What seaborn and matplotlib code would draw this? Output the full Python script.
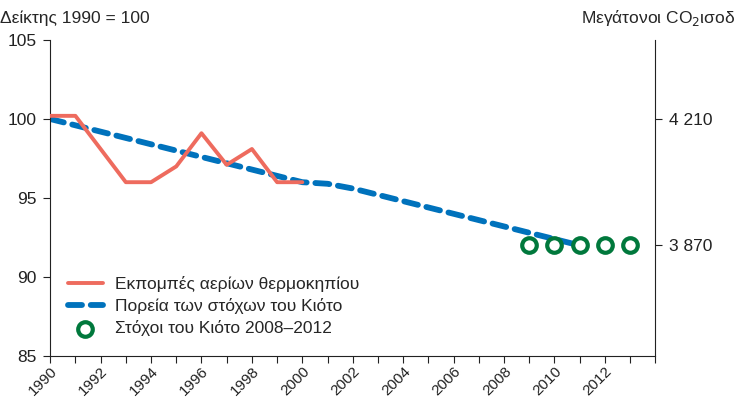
import numpy as np
import pandas as pd
import seaborn as sns
import matplotlib.pyplot as plt

# data
em_years = [1990, 1991, 1993, 1994, 1995, 1996, 1997, 1998, 1999, 2000]
em_index = [100.2, 100.2, 96.0, 96.0, 97.0, 99.1, 97.1, 98.1, 96.0, 96.0]

path_years = list(range(1990, 2012))
path_index = [100.0, 99.6, 99.2, 98.8, 98.4, 98.0, 97.6, 97.2, 96.8, 96.4,
              96.0, 95.9, 95.6, 95.2, 94.8, 94.4, 94.0, 93.6, 93.2, 92.8,
              92.4, 92.0]

target_years = [2009, 2010, 2011, 2012, 2013]
target_index = [92.0, 92.0, 92.0, 92.0, 92.0]

labels = ["Εκπομπές αερίων θερμοκηπίου",
          "Πορεία των στόχων του Κιότο",
          "Στόχοι του Κιότο 2008–2012"]
right_ticks = [4210, 3870]
right_ticklabels = ["4 210", "3 870"]

RED = "#ee6b5e"
BLUE = "#0072bc"
GREEN = "#00783c"
FS = 12.5

sns.set_theme(style="ticks")
plt.rcParams['font.family'] = ['Liberation Sans', 'DejaVu Sans']
plt.rcParams['font.size'] = FS

fig = plt.figure(figsize=(7.38, 4.0), dpi=100)
ax = fig.add_axes([0.068, 0.11, 0.82, 0.79])

em = pd.DataFrame({"year": em_years, "value": em_index})
path = pd.DataFrame({"year": path_years, "value": path_index})
tgt = pd.DataFrame({"year": target_years, "value": target_index})

sns.lineplot(data=path, x="year", y="value", ax=ax, color=BLUE, lw=4.2,
             label=labels[1], zorder=2)
ax.lines[-1].set_dashes((2.4, 1.5))
ax.lines[-1].set_dash_capstyle("round")
sns.lineplot(data=em, x="year", y="value", ax=ax, color=RED, lw=2.8,
             label=labels[0], zorder=3)
sns.scatterplot(data=tgt, x="year", y="value", ax=ax, s=110, marker="o",
                facecolor="white", edgecolor=GREEN, linewidth=3.0,
                label=labels[2], zorder=4)

ax.set_xlim(1990, 2014)
ax.set_ylim(85, 105)
ax.set_yticks([85, 90, 95, 100, 105])
ax.set_xticks(range(1990, 2015))
ax.set_xticklabels([str(y) if (y % 2 == 0 and y <= 2012) else "" for y in range(1990, 2015)],
                   rotation=45, ha="right", rotation_mode="anchor")
ax.set_xlabel("")
ax.set_ylabel("")
ax.tick_params(axis="both", colors="#222222", labelsize=FS, length=5, width=0.8)
ax.tick_params(axis="y", pad=5)
ax.tick_params(axis="x", pad=1, labelsize=11)
for s in ["top", "right"]:
    ax.spines[s].set_visible(False)
for s in ["left", "bottom"]:
    ax.spines[s].set_color("#222222")
    ax.spines[s].set_linewidth(0.8)

# right axis in megatonnes
ax2 = ax.twinx()
k = (4210 - 3870) / 8.0
ax2.set_ylim(4210 - 15 * k, 4210 + 5 * k)
ax2.set_yticks(right_ticks)
ax2.set_yticklabels(right_ticklabels)
ax2.tick_params(axis="y", colors="#222222", labelsize=FS, length=5, width=0.8, pad=5)
for s in ["top", "left", "bottom"]:
    ax2.spines[s].set_visible(False)
ax2.spines["right"].set_color("#222222")
ax2.spines["right"].set_linewidth(0.8)

h, l = ax.get_legend_handles_labels()
order = [l.index(t) for t in labels]
leg = ax.legend([h[i] for i in order], [l[i] for i in order], loc="lower left",
                bbox_to_anchor=(0.012, 0.03), frameon=False, fontsize=FS,
                handlelength=2.0, handletextpad=0.7, labelspacing=0.35, borderaxespad=0.2)

fig.text(0.0, 0.955, "Δείκτης 1990 = 100", ha="left", va="center", fontsize=FS)
fig.text(0.996, 0.955, r"Μεγάτονοι CO$_2$ισοδ", ha="right", va="center", fontsize=FS)

fig.savefig("out.png", dpi=100)
